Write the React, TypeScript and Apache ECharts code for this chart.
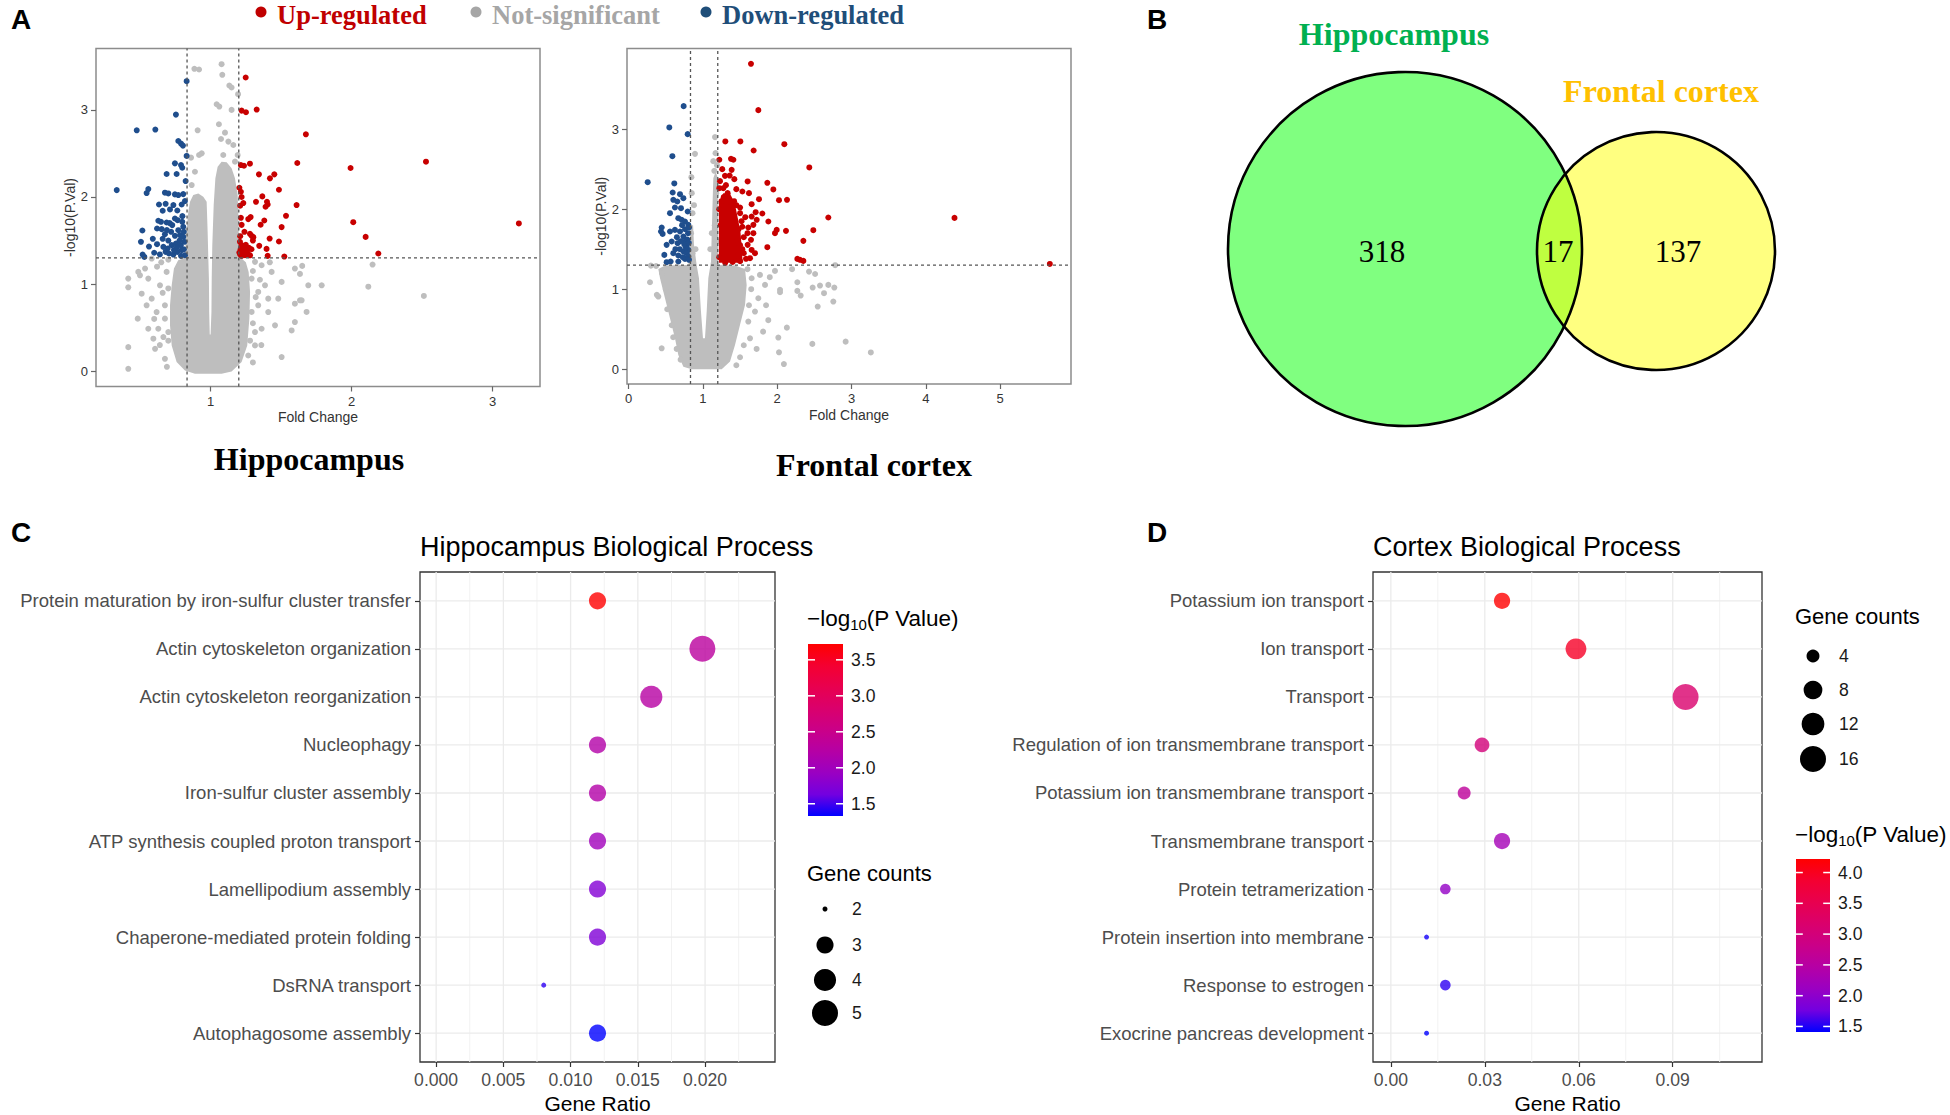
import React, { useEffect, useRef } from "react";
import * as echarts from "echarts";

// ---------------- DATA ----------------
const legendLabels = ["Up-regulated", "Not-significant", "Down-regulated"];
const legendColors = ["#C00000", "#A6A6A6", "#1F4E79"];
const volcanoTitles = ["Hippocampus", "Frontal cortex"];
const hippoXTicks = [1, 2, 3];
const cortexXTicks = [0, 1, 2, 3, 4, 5];
const volcanoYTicks = [0, 1, 2, 3];
const fcThresholds = [0.833, 1.2];
const pThreshold = 1.301;

// dense non-significant core (outline of the solid grey mass)
const hippoCore = [[0.996,-0.03],[0.889,-0.03],[0.818,0.008],[0.759,0.104],[0.724,0.296],[0.712,0.526],[0.712,0.756],[0.724,0.986],[0.74,1.178],[0.77,1.274],[0.806,1.293],[0.823,1.447],[0.833,1.677],[0.842,1.83],[0.854,1.945],[0.877,2.022],[0.913,2.041],[0.948,2.003],[0.972,1.945],[0.979,1.6],[0.984,1.293],[0.988,1.063],[0.99,0.679],[0.994,0.42],[1.0,0.42],[1.006,0.679],[1.008,1.063],[1.012,1.447],[1.022,1.907],[1.034,2.214],[1.05,2.348],[1.078,2.406],[1.114,2.398],[1.149,2.329],[1.173,2.214],[1.192,2.022],[1.199,1.677],[1.2,1.447],[1.22,1.293],[1.25,1.25],[1.27,1.14],[1.28,0.91],[1.275,0.603],[1.26,0.296],[1.22,0.104],[1.149,-0.003],[1.078,-0.03]];
const hippoGray = [[1.078,3.525],[0.885,3.472],[0.918,3.464],[1.083,3.403],[1.133,3.28],[1.149,3.257],[1.195,3.18],[1.043,3.065],[1.062,3.038],[1.149,3.0],[0.908,2.766],[1.059,2.835],[1.102,2.739],[1.074,2.666],[1.126,2.636],[0.937,2.501],[0.918,2.482],[0.861,2.452],[0.889,2.29],[0.866,2.137],[1.09,2.482],[1.173,2.406],[1.192,2.482],[1.161,2.597],
[0.416,1.063],[0.416,0.963],[0.483,0.603],[0.416,0.276],[0.416,0.027],[0.499,1.101],[0.535,1.178],[0.558,1.063],[0.511,0.89],[0.582,0.833],[0.617,0.679],[0.558,0.487],[0.629,0.487],[0.594,0.373],[0.665,0.392],[0.676,0.142],[0.606,0.257],[0.582,1.293],[0.688,1.14],[0.641,0.986],[0.676,0.756],[0.487,1.14],[0.546,0.756],[0.676,0.603],[0.7,0.449],[0.65,1.25],[0.7,1.28],[0.62,1.2],[0.66,0.9],[0.6,0.6],[0.64,0.3],[0.69,0.05],[0.7,0.95],[0.7,0.35],
[1.315,1.255],[1.362,1.216],[1.433,1.14],[1.504,1.025],[1.598,1.178],[1.65,1.209],[1.693,0.986],[1.788,0.986],[1.598,0.775],[1.634,0.814],[1.681,0.68],[1.48,0.833],[1.409,0.679],[1.338,0.756],[1.362,0.487],[1.504,0.162],[1.598,0.564],[1.457,0.526],[1.315,0.296],[1.386,0.986],[1.291,1.063],[1.338,0.91],[1.409,0.833],[1.291,0.68],[1.315,0.449],[1.267,0.18],[1.575,0.468],[2.149,1.224],[2.119,0.97],[2.513,0.864],[1.646,0.814],[1.634,1.117],[1.3,1.15],[1.35,1.05],[1.3,0.55],[1.32,0.85],[1.42,1.25],[1.28,0.35],[1.3,0.1],[1.36,0.3]];
const hippoBlue = [[0.83,3.33],[0.754,2.946],[0.476,2.766],[0.608,2.774],[0.771,2.643],[0.79,2.613],[0.804,2.59],[0.83,2.471],[0.747,2.386],[0.79,2.367],[0.799,2.336],[0.688,2.264],[0.759,2.264],[0.823,2.183],[0.334,2.079],[0.558,2.091],[0.546,2.045],[0.676,2.049],[0.70,2.041],[0.747,2.03],[0.771,2.022],[0.806,2.033],[0.634,1.914],[0.681,1.922],[0.736,1.907],[0.795,1.914],[0.66,1.842],[0.712,1.857],[0.764,1.845],[0.818,1.953],[0.629,1.727],[0.648,1.715],[0.688,1.707],[0.747,1.753],[0.766,1.734],[0.799,1.715],[0.516,1.615],[0.62,1.638],[0.653,1.631],[0.728,1.677],[0.771,1.619],[0.806,1.657],[0.676,1.573],[0.747,1.554],[0.783,1.562],[0.806,1.542],[0.506,1.485],[0.563,1.431],[0.62,1.458],[0.665,1.427],[0.695,1.408],[0.724,1.447],[0.754,1.466],[0.788,1.447],[0.814,1.485],[0.518,1.339],[0.53,1.312],[0.681,1.37],[0.705,1.351],[0.736,1.339],[0.764,1.37],[0.795,1.389],[0.818,1.331],[0.79,1.324],[0.72,1.6],[0.78,1.5],[0.74,1.39],[0.81,1.6],[0.7,1.5],[0.76,1.42],[0.81,1.4],[0.66,1.52],[0.59,1.52],[0.6,1.36],[0.64,1.34],[0.71,1.7],[0.8,1.78],[0.69,1.62]];
const hippoRed = [[1.249,3.372],[1.22,2.992],[1.251,2.973],[1.327,3.004],[1.676,2.72],[1.615,2.39],[1.215,2.367],[1.237,2.359],[1.279,2.382],[1.343,2.26],[1.421,2.214],[1.452,2.26],[1.204,2.106],[1.215,2.06],[1.485,2.083],[1.367,2.007],[1.322,1.945],[1.232,1.93],[1.40,1.945],[1.39,1.888],[1.405,1.914],[1.61,1.907],[1.215,1.761],[1.267,1.746],[1.284,1.769],[1.381,1.73],[1.355,1.681],[1.535,1.784],[1.504,1.654],[1.279,1.577],[1.291,1.554],[1.303,1.539],[1.419,1.523],[1.485,1.489],[1.208,1.485],[1.22,1.447],[1.213,1.401],[1.244,1.389],[1.272,1.416],[1.345,1.439],[1.397,1.404],[1.204,1.362],[1.232,1.351],[1.256,1.37],[1.267,1.339],[1.22,1.324],[1.244,1.331],[1.405,1.324],[1.523,1.316],[1.993,2.333],[2.528,2.405],[2.012,1.711],[2.10,1.542],[2.19,1.351],[3.187,1.696],[1.23,1.42],[1.26,1.36],[1.21,1.34],[1.29,1.4],[1.25,1.45],[1.21,1.55],[1.24,1.6],[1.22,1.68],[1.21,1.9],[1.22,2.0],[1.3,1.5],[1.28,1.33]];

const cortexCore = [[1.015,0.0],[0.849,0.0],[0.737,0.033],[0.669,0.179],[0.624,0.387],[0.557,0.637],[0.49,0.887],[0.423,1.137],[0.40,1.254],[0.49,1.296],[0.804,1.304],[0.826,1.554],[0.835,1.8],[0.868,1.8],[0.88,1.554],[0.916,1.304],[0.947,1.137],[0.974,0.721],[1.001,0.387],[1.028,0.387],[1.051,0.721],[1.073,1.137],[1.109,1.346],[1.127,1.971],[1.14,2.387],[1.172,2.471],[1.2,2.387],[1.205,1.304],[1.432,1.296],[1.567,1.254],[1.589,1.054],[1.567,0.804],[1.499,0.554],[1.432,0.304],[1.365,0.096],[1.253,0.0]];
const cortexRedCore = [[1.215,2.09],[1.275,2.2],[1.36,2.2],[1.425,2.09],[1.47,1.887],[1.505,1.721],[1.52,1.554],[1.535,1.33],[1.215,1.33]];
const cortexGray = [[1.163,2.9],[0.894,2.691],[1.154,2.479],[0.845,2.4],[0.85,2.2],[0.86,1.95],[0.84,1.7],[1.14,2.6],[1.17,2.7],[1.19,2.55],[1.18,2.2],[1.16,1.8],[1.19,1.6],[0.88,2.05],[0.9,1.5],[0.86,1.45],[1.1,1.5],[1.12,1.7],
[0.288,1.087],[0.40,0.908],[0.445,0.262],[0.647,0.254],[0.30,1.295],[0.37,1.29],[0.38,0.93],[0.45,1.2],[0.5,1.0],[0.52,0.75],[0.58,0.55],[0.6,0.4],[0.7,0.12],[1.97,1.229],[2.038,0.992],[2.038,0.963],[2.271,1.087],[2.271,0.979],[2.316,0.921],[2.477,1.021],[2.576,1.046],[2.688,1.054],[2.769,1.021],[2.63,0.95],[2.545,0.783],[2.755,0.846],[2.428,1.22],[2.51,1.19],[2.78,1.3],[2.015,0.396],[2.024,0.212],[2.09,0.065],[2.13,0.52],[1.723,0.254],[1.88,0.613],[1.81,0.47],[2.473,0.317],[2.921,0.345],[3.26,0.21],[1.656,1.137],[1.746,0.887],[1.701,0.721],[1.611,0.596],[1.768,1.179],[1.836,1.054],[1.634,0.387],[1.6,1.25],[1.65,1.0],[1.62,0.8],[1.55,0.3],[1.5,0.15],[1.45,0.05],[1.9,1.15],[2.2,1.25],[1.85,0.8]];
const cortexBlue = [[0.741,3.287],[0.548,3.021],[0.795,2.937],[0.589,2.662],[0.257,2.337],[0.615,2.321],[0.593,2.208],[0.692,2.187],[0.737,2.137],[0.602,2.117],[0.656,2.096],[0.624,2.021],[0.705,2.012],[0.557,1.95],[0.795,1.971],[0.669,1.887],[0.714,1.867],[0.759,1.846],[0.804,1.804],[0.813,1.771],[0.445,1.771],[0.458,1.691],[0.436,1.721],[0.557,1.721],[0.624,1.741],[0.692,1.721],[0.737,1.658],[0.512,1.554],[0.58,1.596],[0.66,1.575],[0.759,1.596],[0.781,1.533],[0.804,1.491],[0.481,1.429],[0.602,1.45],[0.669,1.421],[0.737,1.471],[0.781,1.45],[0.804,1.408],[0.512,1.338],[0.566,1.346],[0.669,1.346],[0.759,1.379],[0.813,1.367],[0.77,1.52],[0.79,1.62],[0.75,1.56],[0.73,1.4],[0.8,1.7],[0.7,1.6],[0.63,1.5],[0.76,1.75],[0.72,1.8],[0.65,1.65],[0.81,1.58],[0.69,1.5]];
const cortexRed = [[1.647,3.816],[1.746,3.237],[1.302,2.846],[1.504,2.846],[2.096,2.812],[1.683,2.733],[2.432,2.521],[1.221,2.617],[1.378,2.629],[1.41,2.617],[1.387,2.491],[1.297,2.416],[1.423,2.375],[1.602,2.346],[1.867,2.329],[1.948,2.246],[1.221,2.262],[1.275,2.262],[1.531,2.221],[1.62,2.2],[1.333,2.2],[2.024,2.112],[2.132,2.117],[1.755,2.125],[1.656,2.062],[2.688,1.896],[2.486,1.737],[2.352,1.604],[2.271,1.379],[2.307,1.367],[2.352,1.354],[1.867,1.525],[1.881,1.846],[1.993,1.741],[2.118,1.729],[1.97,1.7],[1.71,1.962],[1.80,1.946],[1.656,1.908],[1.724,1.867],[1.679,1.804],[1.611,1.771],[1.679,1.7],[1.647,1.617],[1.602,1.554],[1.656,1.491],[1.701,1.45],[1.634,1.388],[4.386,1.891],[5.669,1.316],
[1.45,2.05],[1.5,1.95],[1.52,1.85],[1.48,1.75],[1.55,1.65],[1.5,1.55],[1.55,1.45],[1.5,1.35],[1.58,1.38],[1.46,1.62],[1.42,2.1],[1.35,2.1],[1.3,2.05],[1.25,2.1],[1.28,2.15],[1.47,1.42],[1.53,1.78],[1.4,2.05],[1.57,1.9],[1.6,1.7],[1.23,2.35],[1.31,2.3],[1.26,2.5],[1.36,2.42],[1.45,2.25],[1.5,2.02],[1.22,1.4],[1.24,1.8],[1.22,2.0],[1.3,1.33],[1.4,1.34],[1.53,1.5]];

const vennSets = ["Hippocampus", "Frontal cortex"];
const vennCounts = [318, 17, 137];

const hipTitle = "Hippocampus Biological Process";
const hipTerms = ["Protein maturation by iron-sulfur cluster transfer","Actin cytoskeleton organization","Actin cytoskeleton reorganization","Nucleophagy","Iron-sulfur cluster assembly","ATP synthesis coupled proton transport","Lamellipodium assembly","Chaperone-mediated protein folding","DsRNA transport","Autophagosome assembly"];
const hipRatio = [0.012, 0.0198, 0.016, 0.012, 0.012, 0.012, 0.012, 0.012, 0.008, 0.012];
const hipCount = [3, 5, 4, 3, 3, 3, 3, 3, 2, 3];
const hipLogP = [3.72, 2.3, 2.25, 2.2, 2.2, 2.0, 1.75, 1.72, 1.45, 1.33];
const hipColorRange = [1.33, 3.72];
const hipSizeRange = [2, 5];
const hipRatioTicks = [0, 0.005, 0.01, 0.015, 0.02];
const hipRatioMinor = [0.0025, 0.0075, 0.0125, 0.0175, 0.0225];
const hipColorTicks = [1.5, 2.0, 2.5, 3.0, 3.5];
const hipSizeBreaks = [2, 3, 4, 5];

const ctxTitle = "Cortex Biological Process";
const ctxTerms = ["Potassium ion transport","Ion transport","Transport","Regulation of ion transmembrane transport","Potassium ion transmembrane transport","Transmembrane transport","Protein tetramerization","Protein insertion into membrane","Response to estrogen","Exocrine pancreas development"];
const ctxRatio = [0.0355, 0.0591, 0.0941, 0.0291, 0.0234, 0.0355, 0.0174, 0.0114, 0.0174, 0.0114];
const ctxCount = [6, 10, 16, 5, 4, 6, 3, 2, 3, 2];
const ctxLogP = [4.22, 3.94, 3.15, 3.0, 2.6, 2.25, 2.06, 1.47, 1.55, 1.41];
const ctxColorRange = [1.41, 4.22];
const ctxSizeRange = [2, 16];
const ctxRatioTicks = [0, 0.03, 0.06, 0.09];
const ctxRatioMinor = [0.015, 0.045, 0.075, 0.105];
const ctxColorTicks = [1.5, 2.0, 2.5, 3.0, 3.5, 4.0];
const ctxSizeBreaks = [4, 8, 12, 16];

const labStops = ["#0000FF","#7300E0","#9A00C2","#B500A5","#CA0088","#DA006C","#E8004F","#F40031","#FF0000"];

// ---------------- HELPERS ----------------
const SANS = "Liberation Sans, Arial, sans-serif";
const SERIF = "Liberation Serif, Times New Roman, serif";

function sizeOf(c: number, range: number[]) {
  const t = Math.max(0, c - range[0]) / (range[1] - range[0]);
  return 4.2 * (1 + 5 * Math.sqrt(t)) + 0.8;
}

function polySeries(gi: number, pts: number[][], fill: string, z: number) {
  return {
    type: "custom", xAxisIndex: gi, yAxisIndex: gi, silent: true, z,
    data: [[pts[0][0], pts[0][1]]],
    renderItem: (_p: any, api: any) => ({
      type: "polygon",
      shape: { points: pts.map((p) => api.coord(p)) },
      style: { fill },
    }),
  };
}

function vLineSeries(gi: number, vals: number[], y0: number, y1: number, style: any, z: number) {
  return {
    type: "custom", xAxisIndex: gi, yAxisIndex: gi, silent: true, z,
    data: vals.map((v) => [v, (y0 + y1) / 2]),
    renderItem: (_p: any, api: any) => {
      const a = api.coord([api.value(0), y0]);
      const b = api.coord([api.value(0), y1]);
      return { type: "line", shape: { x1: a[0], y1: a[1], x2: b[0], y2: b[1] }, style };
    },
  };
}

function hLineSeries(gi: number, vals: number[], x0: number, x1: number, style: any, z: number) {
  return {
    type: "custom", xAxisIndex: gi, yAxisIndex: gi, silent: true, z,
    data: vals.map((v) => [(x0 + x1) / 2, v]),
    renderItem: (_p: any, api: any) => {
      const a = api.coord([x0, api.value(1)]);
      const b = api.coord([x1, api.value(1)]);
      return { type: "line", shape: { x1: a[0], y1: a[1], x2: b[0], y2: b[1] }, style };
    },
  };
}

function pts(gi: number, data: number[][], color: string, z: number) {
  return {
    type: "scatter", xAxisIndex: gi, yAxisIndex: gi, data, symbol: "circle", symbolSize: 6,
    itemStyle: { color, opacity: 1 }, z, silent: true,
  };
}

function volX(gi: number, min: number, max: number, ticks: number[], gap: number) {
  return {
    gridIndex: gi, type: "value", min, max,
    axisLine: { show: false, onZero: false }, splitLine: { show: false },
    axisTick: { show: true, customValues: ticks, length: 5, lineStyle: { color: "#666", width: 1.2 } },
    axisLabel: { customValues: ticks, color: "#333", fontSize: 13, margin: 8, fontFamily: SANS },
    name: "Fold Change", nameLocation: "middle", nameGap: gap,
    nameTextStyle: { color: "#333", fontSize: 14, fontFamily: SANS },
  };
}
function volY(gi: number, min: number, max: number, gap: number) {
  return {
    gridIndex: gi, type: "value", min, max,
    axisLine: { show: false, onZero: false }, splitLine: { show: false },
    axisTick: { show: true, customValues: volcanoYTicks, length: 5, lineStyle: { color: "#666", width: 1.2 } },
    axisLabel: { customValues: volcanoYTicks, color: "#333", fontSize: 13, margin: 8, fontFamily: SANS },
    name: "-log10(P.Val)", nameLocation: "middle", nameGap: gap, nameRotate: 90,
    nameTextStyle: { color: "#333", fontSize: 14, fontFamily: SANS },
  };
}
function goX(gi: number, min: number, max: number, ticks: number[], dec: number) {
  return {
    gridIndex: gi, type: "value", min, max,
    axisLine: { show: false, onZero: false }, splitLine: { show: false },
    axisTick: { show: true, customValues: ticks, length: 5, lineStyle: { color: "#333", width: 1.2 } },
    axisLabel: { customValues: ticks, formatter: (v: any) => Number(v).toFixed(dec), color: "#4D4D4D", fontSize: 17.6, margin: 9, fontFamily: SANS },
    name: "Gene Ratio", nameLocation: "middle", nameGap: 31,
    nameTextStyle: { color: "#000", fontSize: 21, fontFamily: SANS },
  };
}
function goY(gi: number, terms: string[]) {
  const t = terms.map((_, i) => i + 1);
  return {
    gridIndex: gi, type: "value", inverse: true, min: 0.4, max: 10.6,
    axisLine: { show: false, onZero: false }, splitLine: { show: false },
    axisTick: { show: true, customValues: t, length: 5, lineStyle: { color: "#333", width: 1.2 } },
    axisLabel: { customValues: t, formatter: (v: any) => terms[Math.round(Number(v)) - 1] || "", color: "#4D4D4D", fontSize: 18.5, margin: 9, fontFamily: SANS },
  };
}

function txt(text: string, x: number, y: number, size: number, fill: string, opts: any = {}) {
  return {
    type: "text", x, y, silent: true,
    style: {
      text, fill, fontSize: size, fontFamily: opts.family || SANS, fontWeight: opts.weight || "normal",
      textAlign: opts.align || "left", textVerticalAlign: "middle", align: opts.align || "left", verticalAlign: "middle",
    },
  };
}

function lensPoints(c1x: number, c1y: number, r1: number, c2x: number, c2y: number, r2: number, n: number) {
  const dx = c2x - c1x, dy = c2y - c1y;
  const d = Math.hypot(dx, dy);
  const a = (d * d + r1 * r1 - r2 * r2) / (2 * d);
  const h = Math.sqrt(r1 * r1 - a * a);
  const base = Math.atan2(dy, dx);
  const t1 = Math.atan2(h, a), t2 = Math.atan2(h, d - a);
  const out: number[][] = [];
  for (let i = 0; i <= n; i++) { const g = base - t1 + (2 * t1 * i) / n; out.push([c1x + r1 * Math.cos(g), c1y + r1 * Math.sin(g)]); }
  for (let i = 0; i <= n; i++) { const g = base + Math.PI - t2 + (2 * t2 * i) / n; out.push([c2x + r2 * Math.cos(g), c2y + r2 * Math.sin(g)]); }
  return out;
}

function colorbar(x: number, y: number, w: number, h: number, range: number[], ticks: number[]) {
  const els: any[] = [{
    type: "rect", shape: { x, y, width: w, height: h }, silent: true,
    style: { fill: { type: "linear", x: 0, y: 1, x2: 0, y2: 0, colorStops: labStops.map((c, i) => ({ offset: i / (labStops.length - 1), color: c })) } },
  }];
  ticks.forEach((t) => {
    const yy = y + h - ((t - range[0]) / (range[1] - range[0])) * h;
    els.push({ type: "line", silent: true, shape: { x1: x, y1: yy, x2: x + w * 0.2, y2: yy }, style: { stroke: "#fff", lineWidth: 1.5 } });
    els.push({ type: "line", silent: true, shape: { x1: x + w * 0.8, y1: yy, x2: x + w, y2: yy }, style: { stroke: "#fff", lineWidth: 1.5 } });
    els.push(txt(t.toFixed(1), x + w + 8, yy, 17.6, "#1A1A1A"));
  });
  return els;
}

function sizeLegend(cx: number, ys: number[], breaks: number[], range: number[], labelX: number) {
  const els: any[] = [];
  breaks.forEach((b, i) => {
    els.push({ type: "circle", silent: true, shape: { cx, cy: ys[i], r: sizeOf(b, range) / 2 }, style: { fill: "#000" } });
    els.push(txt(String(b), labelX, ys[i], 17.6, "#1A1A1A"));
  });
  return els;
}

function logTitle(x: number, y: number) {
  return {
    type: "text", x, y, silent: true,
    style: {
      text: "{a|−log}{s|10}{a|(P Value)}", fill: "#000", fontFamily: SANS,
      textVerticalAlign: "middle", verticalAlign: "middle",
      rich: {
        a: { fontSize: 22.5, lineHeight: 28, fill: "#000", color: "#000", fontFamily: SANS, verticalAlign: "middle" },
        s: { fontSize: 15, lineHeight: 15, fill: "#000", color: "#000", fontFamily: SANS, verticalAlign: "bottom" },
      },
    },
  };
}

function buildOption() {
  const series: any[] = [];
  const dashStyle = { stroke: "#555", lineWidth: 1.3, lineDash: [3, 3] };
  const gridStyle = { stroke: "#EBEBEB", lineWidth: 1.3 };
  const minorStyle = { stroke: "#F2F2F2", lineWidth: 1 };

  // Hippocampus volcano (grid 0)
  const hx = [0.187, 3.337], hy = [-0.176, 3.705];
  series.push(polySeries(0, hippoCore, "#BEBEBE", 1));
  series.push(pts(0, hippoGray, "#BEBEBE", 2));
  series.push(pts(0, hippoBlue, "#1F4E8D", 3));
  series.push(pts(0, hippoRed, "#C80000", 3));
  series.push(vLineSeries(0, fcThresholds, hy[0], hy[1], dashStyle, 5));
  series.push(hLineSeries(0, [pThreshold], hx[0], hx[1], dashStyle, 5));

  // Cortex volcano (grid 1)
  const cx = [-0.0215, 5.954], cy = [-0.184, 4.007];
  series.push(polySeries(1, cortexCore, "#BEBEBE", 1));
  series.push(pts(1, cortexGray, "#BEBEBE", 2));
  series.push(polySeries(1, cortexRedCore, "#C80000", 3));
  series.push(pts(1, cortexBlue, "#1F4E8D", 3));
  series.push(pts(1, cortexRed, "#C80000", 3));
  series.push(vLineSeries(1, fcThresholds, cy[0], cy[1], dashStyle, 5));
  series.push(hLineSeries(1, [pThreshold], cx[0], cx[1], dashStyle, 5));

  // Panel C (grid 2)
  const gx2 = [-0.0012, 0.0252];
  series.push(vLineSeries(2, hipRatioMinor, 0.4, 10.6, minorStyle, 0));
  series.push(vLineSeries(2, hipRatioTicks, 0.4, 10.6, gridStyle, 0));
  series.push(hLineSeries(2, hipTerms.map((_, i) => i + 1), gx2[0], gx2[1], gridStyle, 0));
  const idxC = series.length;
  series.push({
    type: "scatter", xAxisIndex: 2, yAxisIndex: 2, z: 3, silent: true, symbol: "circle",
    data: hipTerms.map((_, i) => [hipRatio[i], i + 1, hipLogP[i], hipCount[i]]),
    symbolSize: (v: any) => sizeOf(v[3], hipSizeRange),
    encode: { x: 0, y: 1 },
  });

  // Panel D (grid 3)
  const gx3 = [-0.0057, 0.1185];
  series.push(vLineSeries(3, ctxRatioMinor, 0.4, 10.6, minorStyle, 0));
  series.push(vLineSeries(3, ctxRatioTicks, 0.4, 10.6, gridStyle, 0));
  series.push(hLineSeries(3, ctxTerms.map((_, i) => i + 1), gx3[0], gx3[1], gridStyle, 0));
  const idxD = series.length;
  series.push({
    type: "scatter", xAxisIndex: 3, yAxisIndex: 3, z: 3, silent: true, symbol: "circle",
    data: ctxTerms.map((_, i) => [ctxRatio[i], i + 1, ctxLogP[i], ctxCount[i]]),
    symbolSize: (v: any) => sizeOf(v[3], ctxSizeRange),
    encode: { x: 0, y: 1 },
  });

  // ---------- graphics ----------
  const g: any[] = [];
  [["A", 21, 19], ["B", 1157, 19], ["C", 21, 532], ["D", 1157, 532]].forEach((l: any) =>
    g.push(txt(l[0], l[1], l[2], 28, "#000", { weight: "bold", align: "center" })));
  const dotX = [261, 476, 706], labX = [277, 492, 722];
  legendLabels.forEach((t, i) => {
    g.push({ type: "circle", silent: true, shape: { cx: dotX[i], cy: 12, r: 5.5 }, style: { fill: legendColors[i] } });
    g.push(txt(t, labX[i], 15, 26.5, legendColors[i], { family: SERIF, weight: "bold" }));
  });
  g.push(txt(volcanoTitles[0], 309, 459, 32, "#000", { family: SERIF, weight: "bold", align: "center" }));
  g.push(txt(volcanoTitles[1], 874, 465, 32, "#000", { family: SERIF, weight: "bold", align: "center" }));

  // Venn
  const c1 = [1405, 249, 177], c2 = [1656, 251, 119];
  g.push({ type: "circle", silent: true, shape: { cx: c1[0], cy: c1[1], r: c1[2] }, style: { fill: "#80FF80" } });
  g.push({ type: "circle", silent: true, shape: { cx: c2[0], cy: c2[1], r: c2[2] }, style: { fill: "#FFFF80" } });
  g.push({ type: "polygon", silent: true, shape: { points: lensPoints(c1[0], c1[1], c1[2], c2[0], c2[1], c2[2], 40) }, style: { fill: "#BFFF40" } });
  g.push({ type: "circle", silent: true, shape: { cx: c1[0], cy: c1[1], r: c1[2] }, style: { fill: "transparent", stroke: "#000", lineWidth: 2.6 } });
  g.push({ type: "circle", silent: true, shape: { cx: c2[0], cy: c2[1], r: c2[2] }, style: { fill: "transparent", stroke: "#000", lineWidth: 2.6 } });
  g.push(txt(vennSets[0], 1394, 34, 32, "#00B050", { family: SERIF, weight: "bold", align: "center" }));
  g.push(txt(vennSets[1], 1661, 91, 32, "#FFC000", { family: SERIF, weight: "bold", align: "center" }));
  const numX = [1382, 1558, 1678];
  vennCounts.forEach((n, i) => g.push(txt(String(n), numX[i], 251, 31, "#000", { family: SERIF, align: "center" })));

  // Panel C titles & legends
  g.push(txt(hipTitle, 420, 547, 27, "#000"));
  g.push(logTitle(807, 618));
  g.push(...colorbar(808, 644, 35, 172, hipColorRange, hipColorTicks));
  g.push(txt("Gene counts", 807, 873, 22, "#000"));
  g.push(...sizeLegend(825, [909, 945, 980, 1013], hipSizeBreaks, hipSizeRange, 852));

  // Panel D titles & legends
  g.push(txt(ctxTitle, 1373, 547, 27, "#000"));
  g.push(txt("Gene counts", 1795, 616, 22, "#000"));
  g.push(...sizeLegend(1813, [656, 690, 724, 759], ctxSizeBreaks, ctxSizeRange, 1839));
  g.push(logTitle(1795, 834));
  g.push(...colorbar(1796, 859, 34, 173, ctxColorRange, ctxColorTicks));

  const gridBase = { show: true, backgroundColor: "transparent", containLabel: false, outerBoundsMode: "none" };
  return {
    animation: false,
    backgroundColor: "#fff",
    textStyle: { fontFamily: SANS },
    grid: [
      { ...gridBase, left: 96, top: 48.5, width: 444, height: 338, borderColor: "#8C8C8C", borderWidth: 1.5 },
      { ...gridBase, left: 627, top: 48.5, width: 444, height: 335.5, borderColor: "#8C8C8C", borderWidth: 1.5 },
      { ...gridBase, left: 420, top: 572, width: 355, height: 490, borderColor: "#333", borderWidth: 1.3 },
      { ...gridBase, left: 1373, top: 572, width: 389, height: 490, borderColor: "#333", borderWidth: 1.3 },
    ],
    xAxis: [
      volX(0, hx[0], hx[1], hippoXTicks, 23),
      volX(1, cx[0], cx[1], cortexXTicks, 24),
      goX(2, gx2[0], gx2[1], hipRatioTicks, 3),
      goX(3, gx3[0], gx3[1], ctxRatioTicks, 2),
    ],
    yAxis: [
      volY(0, hy[0], hy[1], 19),
      volY(1, cy[0], cy[1], 18),
      goY(2, hipTerms),
      goY(3, ctxTerms),
    ],
    visualMap: [
      { type: "continuous", show: false, seriesIndex: idxC, dimension: 2, min: hipColorRange[0], max: hipColorRange[1], inRange: { color: labStops } },
      { type: "continuous", show: false, seriesIndex: idxD, dimension: 2, min: ctxColorRange[0], max: ctxColorRange[1], inRange: { color: labStops } },
    ],
    series,
    graphic: { elements: g },
  };
}

export default function App() {
  const ref = useRef<HTMLDivElement>(null);
  useEffect(() => {
    document.body.style.margin = "0";
    const chart = echarts.init(ref.current as HTMLDivElement, null, { renderer: "svg", width: 1950, height: 1115 });
    chart.setOption(buildOption() as any);
    return () => chart.dispose();
  }, []);
  return <div ref={ref} style={{ width: 1950, height: 1115, background: "#fff" }} />;
}
